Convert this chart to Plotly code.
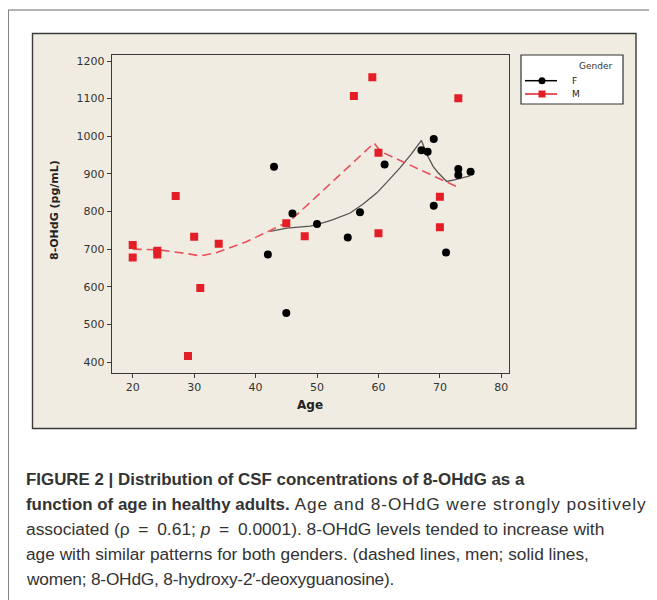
import plotly.graph_objects as go

W, H = 657, 600
OX, OY = 8, 8  # page body margin offset of the rendered html

# ---- data ----
female_age = [42, 43, 45, 46, 50, 55, 57, 61, 67, 68, 69, 69, 71, 73, 73, 75]
female_val = [686, 919, 530, 795, 767, 731, 798, 925, 963, 959, 993, 815, 691, 913, 897, 906]

male_age = [20, 20, 24, 24, 27, 29, 30, 31, 34, 45, 48, 56, 59, 60, 60, 70, 70, 73]
male_val = [711, 678, 696, 686, 841, 416, 733, 597, 714, 769, 734, 1107, 1157, 956, 742, 839, 758, 1101]

# smoother (lowess) curves as drawn in the figure
female_fit_age = [42.4, 45.1, 48.9, 50.0, 52.5, 55.4, 57.5, 59.7, 61.5, 63.5, 65.3, 67.0, 67.9, 68.9, 69.6, 71.1, 72.5, 74.9]
female_fit_val = [747, 756, 761, 765, 778, 796, 820, 849, 880, 916, 952, 989, 951, 920, 905, 880, 885, 895]

male_fit_age = [20, 24.3, 28.5, 31, 33.7, 38.4, 41.8, 45.6, 49, 52, 56, 59.3, 60.3, 63, 66, 70, 73]
male_fit_val = [700, 698, 689, 682, 691, 719, 745, 775, 826, 872, 933, 982, 960, 940, 916, 887, 864]

x_ticks = [20, 30, 40, 50, 60, 70, 80]
y_ticks = [400, 500, 600, 700, 800, 900, 1000, 1100, 1200]

legend_title = "Gender"
legend_labels = ["F", "M"]

EQ = "\u2002=\u2002"
caption_lines = [
    "<b>FIGURE 2 | Distribution of CSF concentrations of 8-OHdG as a</b>",
    "<b>function of age in healthy adults.</b><span style='font-size:17.3px;letter-spacing:0.9px'> Age and 8-OHdG were strongly positively</span>",
    "associated (\u03c1" + EQ + "0.61; <i>p</i>" + EQ + "0.0001). 8-OHdG levels tended to increase with",
    "age with similar patterns for both genders. (dashed lines, men; solid lines,",
    "<span style='letter-spacing:-0.2px'>women; 8-OHdG, 8-hydroxy-2\u2032-deoxyguanosine).</span>",
]

# ---- style ----
RED = "#E41E26"
DASH_RED = "#E8505A"
BEIGE = "#F0ECE2"
AX = "#3a3a3a"


def X(px):
    return (px - OX) / W


def Y(py):
    return 1 - (py - OY) / H


fig = go.Figure()

fig.add_trace(go.Scatter(x=female_fit_age, y=female_fit_val, mode="lines",
                         line=dict(color="#555555", width=1.3), showlegend=False,
                         hoverinfo="skip"))
fig.add_trace(go.Scatter(x=male_fit_age, y=male_fit_val, mode="lines",
                         line=dict(color=DASH_RED, width=1.6, dash="9px,5px"),
                         showlegend=False, hoverinfo="skip"))
fig.add_trace(go.Scatter(x=female_age, y=female_val, mode="markers", name="F",
                         marker=dict(symbol="circle", size=8, color="black"),
                         showlegend=False))
fig.add_trace(go.Scatter(x=male_age, y=male_val, mode="markers", name="M",
                         marker=dict(symbol="square", size=8, color=RED),
                         showlegend=False))

shapes = []
# outer frame
shapes.append(dict(type="rect", xref="paper", yref="paper", x0=X(8.3), x1=1.05,
                   y0=-0.05, y1=Y(10), line=dict(color="#666666", width=1),
                   fillcolor="white", layer="below"))
# beige panel
shapes.append(dict(type="rect", xref="paper", yref="paper", x0=X(32.5), x1=X(636),
                   y0=Y(428.5), y1=Y(33.5), line=dict(color="#3a3a3a", width=1.4),
                   fillcolor=BEIGE, layer="below"))
# legend box
shapes.append(dict(type="rect", xref="paper", yref="paper", x0=X(521), x1=X(623),
                   y0=Y(104), y1=Y(55), line=dict(color="#333333", width=1.2),
                   fillcolor="white", layer="above"))
# legend glyphs
shapes.append(dict(type="line", xref="paper", yref="paper", x0=X(525), x1=X(557),
                   y0=Y(80.7), y1=Y(80.7), line=dict(color="black", width=1.5)))
shapes.append(dict(type="circle", xref="paper", yref="paper", x0=X(538.5), x1=X(545.5),
                   y0=Y(84.2), y1=Y(77.2), line=dict(color="black", width=0),
                   fillcolor="black"))
shapes.append(dict(type="line", xref="paper", yref="paper", x0=X(525), x1=X(557),
                   y0=Y(94), y1=Y(94), line=dict(color=RED, width=1.5)))
shapes.append(dict(type="rect", xref="paper", yref="paper", x0=X(538.5), x1=X(545.5),
                   y0=Y(97.5), y1=Y(90.5), line=dict(color=RED, width=0),
                   fillcolor=RED))

annotations = []
annotations.append(dict(text=legend_title, xref="paper", yref="paper", x=X(595), y=Y(66),
                        xanchor="center", yanchor="middle", showarrow=False,
                        font=dict(family="DejaVu Sans", size=9, color="#333")))
for lab, py in zip(legend_labels, [80.7, 94]):
    annotations.append(dict(text=lab, xref="paper", yref="paper", x=X(570), y=Y(py),
                            xanchor="left", yanchor="middle", showarrow=False,
                            font=dict(family="DejaVu Sans", size=9, color="#222")))
# axis titles
annotations.append(dict(text="<b>Age</b>", xref="paper", yref="paper", x=X(310), y=Y(405),
                        xanchor="center", yanchor="middle", showarrow=False,
                        font=dict(family="DejaVu Sans", size=12, color="#222")))
annotations.append(dict(text="<b>8-OHdG (pg/mL)</b>", xref="paper", yref="paper", x=X(54),
                        y=Y(210), xanchor="center", yanchor="middle", showarrow=False,
                        textangle=-90,
                        font=dict(family="DejaVu Sans", size=11, color="#222")))
# caption
cap_y = [479.3, 504.3, 529.3, 554.3, 579.3]
cap_size = [16.9, 16.9, 17.4, 17.3, 17.3]
for txt, py, fs in zip(caption_lines, cap_y, cap_size):
    annotations.append(dict(text=txt, xref="paper", yref="paper", x=X(24), y=Y(py),
                            xanchor="left", yanchor="middle", showarrow=False,
                            font=dict(family="Liberation Sans", size=fs, color="#333")))

fig.update_layout(
    width=W, height=H, autosize=False,
    margin=dict(l=0, r=0, t=0, b=0),
    paper_bgcolor="white", plot_bgcolor="white",
    shapes=shapes, annotations=annotations,
    showlegend=False,
    xaxis=dict(domain=[X(111.7), X(508.7)], range=[16.58, 81.2], tickvals=x_ticks,
               showgrid=False, zeroline=False, showline=True, mirror=True,
               linecolor=AX, linewidth=1.2, ticks="outside", ticklen=4, tickcolor=AX,
               tickfont=dict(family="DejaVu Sans", size=11, color="#333")),
    yaxis=dict(domain=[Y(372.7), Y(55)], range=[371.6, 1216], tickvals=y_ticks,
               showgrid=False, zeroline=False, showline=True, mirror=True,
               linecolor=AX, linewidth=1.2, ticks="outside", ticklen=4, tickcolor=AX,
               tickfont=dict(family="DejaVu Sans", size=11, color="#333")),
)

fig.write_html("out.html")
